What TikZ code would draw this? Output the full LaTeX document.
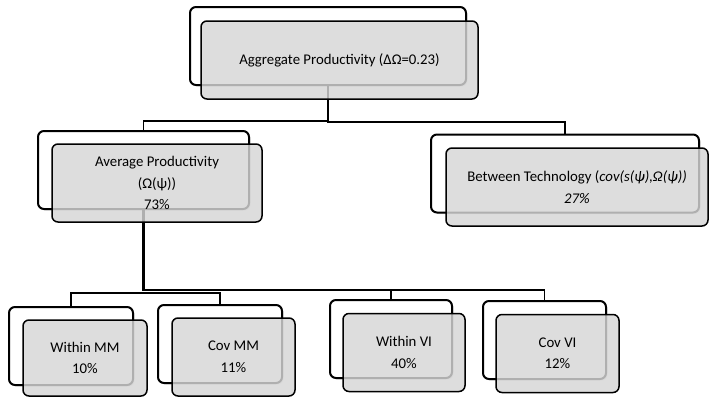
\documentclass[tikz,border=0pt]{standalone}
\usepackage{fontspec}
\setmainfont{Carlito}
\usetikzlibrary{shadows}
\begin{document}
\begin{tikzpicture}[x=1pt,y=-1pt,
  backbox/.style={draw=black, line width=2pt, fill=white, rounded corners=6pt,
    minimum width=#1, minimum height=78pt, inner sep=0pt,
    drop shadow={opacity=0.25, shadow xshift=1.5pt, shadow yshift=-1.5pt}},
  frontbox/.style={draw=black, line width=1.5pt, fill=gray!32, fill opacity=0.82,
    text opacity=1, rounded corners=6pt, minimum width=#1, minimum height=78pt,
    inner sep=0pt, align=center, font=\fontsize{14.8}{21.5}\selectfont},
  conn/.style={draw=black, line width=1.3pt},
  thickconn/.style={draw=black, line width=2.2pt}]
\useasboundingbox (0,0) rectangle (709,397);
% back boxes
\node[backbox=276pt] (topB) at (328,46) {};
\node[backbox=211pt] (avgB) at (143.5,170) {};
\node[backbox=268pt] (betB) at (565,173.5) {};
\node[backbox=124pt] (wmmB) at (71,346) {};
\node[backbox=124pt] (cmmB) at (220,344) {};
\node[backbox=122pt] (wviB) at (391,339) {};
\node[backbox=123pt] (cviB) at (544.5,340) {};
% connectors
\draw[conn] (topB.south) -- (topB.south |- 0,121) -| (avgB.north);
\draw[conn] (topB.south) -- (topB.south |- 0,122) -| (betB.north);
\draw[thickconn] (avgB.south) -- (avgB.south |- 0,290) -| (wviB.north);
\draw[conn] (avgB.south |- 0,290) -| (cviB.north);
\draw[conn] (avgB.south |- 0,293) -| (wmmB.north);
\draw[conn] (avgB.south |- 0,293) -| (cmmB.north);
% front boxes
\node[frontbox=277pt] (topF) at (339.5,60) {Aggregate Productivity (ΔΩ=0.23)};
\node[frontbox=210pt] (avgF) at (157,183) {Average Productivity\\(Ω(ψ))\\73\%};
\node[frontbox=262pt] (betF) at (577,187) {Between Technology (\textit{cov(s(ψ),Ω(ψ))}\\\textit{27\%}};
\node[frontbox=124pt, minimum height=76pt] (wmmF) at (85,358) {Within MM\\10\%};
\node[frontbox=123pt] (cmmF) at (233.5,357) {Cov MM\\11\%};
\node[frontbox=122pt] (wviF) at (404,352.5) {Within VI\\40\%};
\node[frontbox=123pt] (cviF) at (557.5,353.5) {Cov VI\\12\%};
\end{tikzpicture}
\end{document}
